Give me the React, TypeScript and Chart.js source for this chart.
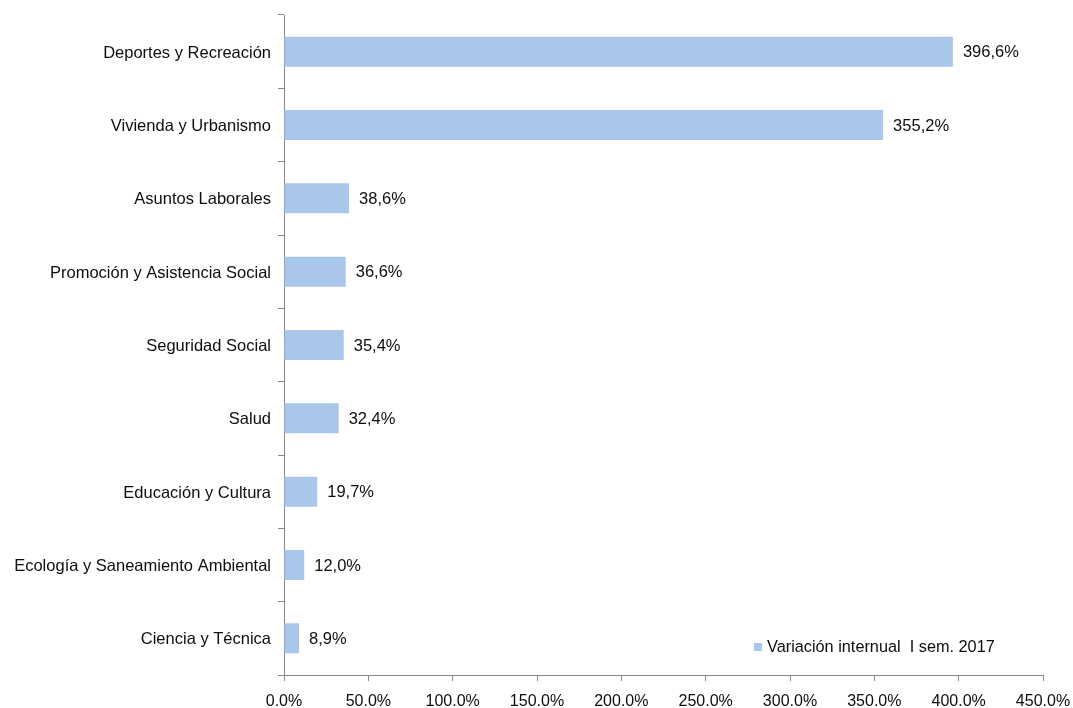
import React, { useEffect, useRef } from "react";
import { Chart, registerables } from "chart.js";

Chart.register(...registerables);

const categories = [
  "Deportes y Recreación",
  "Vivienda y Urbanismo",
  "Asuntos Laborales",
  "Promoción y Asistencia Social",
  "Seguridad Social",
  "Salud",
  "Educación y Cultura",
  "Ecología y Saneamiento Ambiental",
  "Ciencia y Técnica",
];
const values = [396.6, 355.2, 38.6, 36.6, 35.4, 32.4, 19.7, 12.0, 8.9];
const seriesName = "Variación internual  I sem. 2017";
const xMin = 0;
const xMax = 450;
const xStep = 50;

const FONT = "Liberation Sans, Arial, sans-serif";
const BAR_COLOR = "#A9C6EB";
const AXIS_COLOR = "#888888";
const TEXT_COLOR = "#0d0d0d";

export default function App() {
  const ref = useRef<HTMLCanvasElement | null>(null);
  useEffect(() => {
    if (!ref.current) return;
    const labelPlugin = {
      id: "valueLabels",
      afterDatasetsDraw(chart: any) {
        const ctx = chart.ctx;
        const meta = chart.getDatasetMeta(0);
        ctx.save();
        ctx.font = `16.5px ${FONT}`;
        ctx.fillStyle = TEXT_COLOR;
        ctx.textBaseline = "middle";
        ctx.textAlign = "left";
        meta.data.forEach((bar: any, i: number) => {
          const txt = values[i].toFixed(1).replace(".", ",") + "%";
          ctx.fillText(txt, bar.x + 10, bar.y + 1);
        });
        // legend inside the plot area
        const ca = chart.chartArea;
        const lx = ca.left + 470;
        const ly = ca.bottom - 28;
        ctx.fillStyle = BAR_COLOR;
        ctx.fillRect(lx, ly - 4, 8, 8);
        ctx.fillStyle = TEXT_COLOR;
        ctx.font = `16.3px ${FONT}`;
        ctx.fillText(seriesName, lx + 13, ly + 1);
        ctx.restore();
      },
    };
    const chart = new Chart(ref.current, {
      type: "bar",
      data: {
        labels: categories,
        datasets: [
          {
            label: seriesName,
            data: values,
            backgroundColor: BAR_COLOR,
            borderWidth: 0,
            barPercentage: 0.41,
            categoryPercentage: 1,
          },
        ],
      },
      options: {
        indexAxis: "y",
        animation: false,
        responsive: false,
        maintainAspectRatio: false,
        layout: { padding: { top: 15, right: 30, left: 0, bottom: 0 } },
        plugins: {
          legend: { display: false },
          tooltip: { enabled: false },
        },
        scales: {
          x: {
            min: xMin,
            max: xMax,
            ticks: {
              stepSize: xStep,
              color: TEXT_COLOR,
              font: { family: FONT, size: 16 },
              padding: 11,
              maxRotation: 0,
              callback: (v: any) => Number(v).toFixed(1) + "%",
            },
            grid: {
              drawOnChartArea: false,
              drawTicks: true,
              tickLength: 6,
              color: AXIS_COLOR,
            },
            border: { display: true, color: AXIS_COLOR, width: 1 },
            afterFit: (s: any) => {
              s.height = 33;
              s.paddingLeft = 0;
              s.paddingRight = 0;
            },
          },
          y: {
            offset: true,
            ticks: {
              color: TEXT_COLOR,
              font: { family: FONT, size: 16.5 },
              padding: 7,
              labelOffset: 1.5,
            },
            grid: {
              offset: true,
              drawOnChartArea: false,
              drawTicks: true,
              tickLength: 6,
              color: AXIS_COLOR,
            },
            border: { display: true, color: AXIS_COLOR, width: 1 },
            afterFit: (s: any) => {
              s.width = 284;
              s.paddingTop = 0;
              s.paddingBottom = 0;
            },
          },
        },
      },
      plugins: [labelPlugin],
    });
    return () => chart.destroy();
  }, []);
  return (
    <div style={{ position: "fixed", left: 0, top: 0, width: 1073, height: 708, background: "#fff" }}>
      <canvas ref={ref} width={1073} height={708} style={{ display: "block" }} />
    </div>
  );
}
